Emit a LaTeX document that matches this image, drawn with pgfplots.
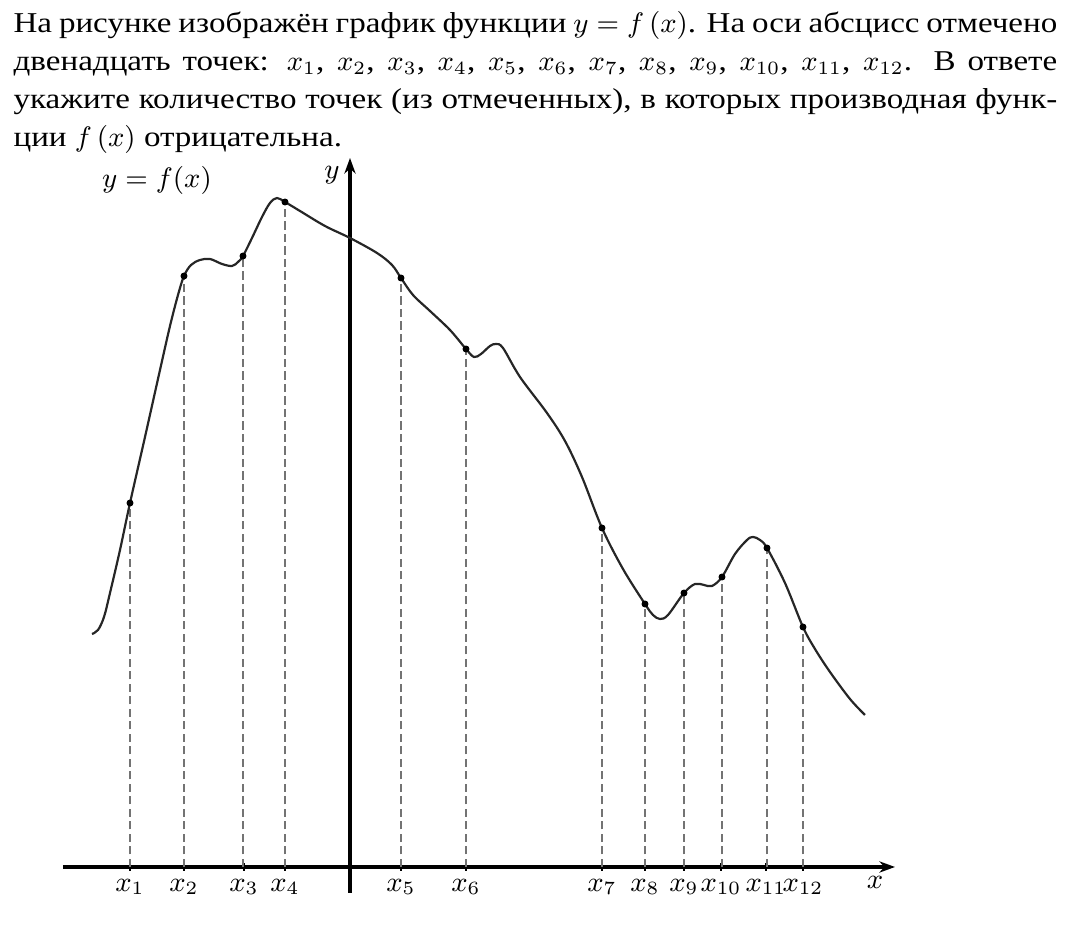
\documentclass[border=0pt]{standalone}
\usepackage[no-math]{fontspec}
\setmainfont{Liberation Serif}[FakeStretch=1.15]
\usepackage{pgfplots}
\pgfplotsset{compat=1.18}
\usetikzlibrary{arrows.meta}

\begin{document}
\fontsize{9.2}{12.16}\selectfont
\begin{tikzpicture}
\begin{axis}[
  x=0.32pt, y=0.32pt,
  xmin=-287, xmax=545, ymin=-26, ymax=709,
  axis lines=middle,
  axis line style={line width=1pt, black},
  every inner x axis line/.append style={-{Stealth[length=5pt,width=3.6pt]}},
  every inner y axis line/.append style={-{Stealth[length=5pt,width=3.6pt]}},
  clip=false,
  xtick={-220,-166,-106,-65,51,116,252,295,334,371,416,453},
  xticklabels={$x_1$,$x_2$,$x_3$,$x_4$,$x_5$,$x_6$,$x_7$,$x_8$,$x_9$,$x_{10}$,$x_{11}$,$x_{12}$},
  ytick=\empty,
  major tick length=2.5pt,
  tick style={black, line width=0.5pt},
  xticklabel style={yshift=-1.5pt, inner sep=1pt},
]

% dashed drop lines
\addplot[ycomb, draw=black!55, line width=0.8pt, dash pattern=on 2.7pt off 1.3pt] coordinates {
  (-220,364) (-166,591) (-107,611) (-65,665) (51,589) (116,518)
  (252,339) (295,263) (334,274) (372,290) (417,319) (453,240)
};

% the function
\addplot[smooth, tension=0.55, draw=black!85, line width=0.7pt] coordinates {
  (-258,233) (-252,237) (-246,250) (-240,274) (-230,317) (-220,364)
  (-205,430) (-190,497) (-180,541) (-172,572) (-166,591) (-159,602)
  (-150,607) (-140,608) (-128,603) (-118,601) (-112,605) (-107,611)
  (-98,629) (-88,650) (-80,664) (-73,669) (-65,665) (-50,656)
  (-25,641) (0,629) (27,614) (42,602) (51,589) (63,572)
  (80,556) (100,537) (116,518) (124,510) (131,513) (140,521)
  (146,523) (153,519) (170,490) (197,454) (215,426) (232,390)
  (252,339) (273,298) (295,263) (303,252) (310,248) (318,252)
  (334,274) (345,283) (354,282) (362,281) (372,290) (385,313)
  (397,327) (403,330) (410,327) (417,319) (435,284) (453,240)
  (465,218) (480,195) (500,168) (515,152)
};

% marked points
\addplot[only marks, mark=*, mark size=0.9pt, black] coordinates {
  (-220,364) (-166,591) (-107,611) (-65,665) (51,589) (116,518)
  (252,339) (295,263) (334,274) (372,290) (417,319) (453,240)
};

\node at (axis cs:-193,687) {$y = f(x)$};
\node at (axis cs:-18,692) {$y$};
\node at (axis cs:525,-15) {$x$};

\node[anchor=base west, text width=334pt, inner sep=0pt, align=justify]
  at (axis cs:-337,834)
  {На рисунке изображён график функции $y = f\,(x)$. На оси абсцисс отмечено\linebreak
   двенадцать точек: $x_1$, $x_2$, $x_3$, $x_4$, $x_5$, $x_6$, $x_7$, $x_8$, $x_9$, $x_{10}$, $x_{11}$, $x_{12}$. В~ответе\linebreak
   укажите количество точек (из отмеченных), в которых производная функ-\linebreak
   ции $f\,(x)$ отрицательна.};

\coordinate (bl) at (axis cs:-350,-59);
\coordinate (tr) at (axis cs:722,867);
\end{axis}
\pgfresetboundingbox
\path (bl) rectangle (tr);
\end{tikzpicture}
\end{document}
